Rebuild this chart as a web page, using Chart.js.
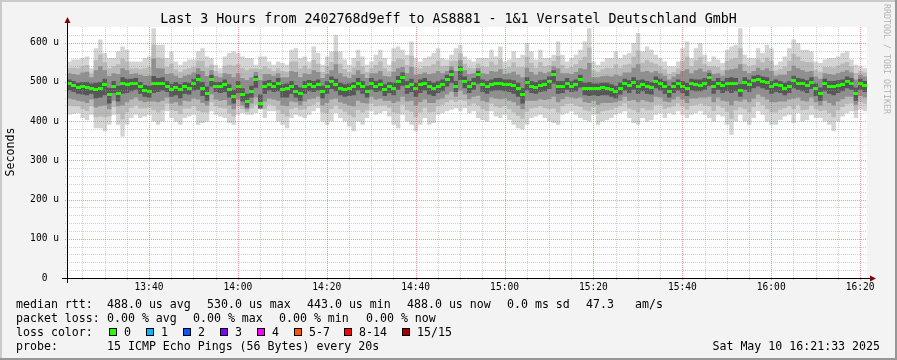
<!DOCTYPE html>
<html>
<head>
<meta charset="utf-8">
<script src="https://cdn.jsdelivr.net/npm/chart.js@4"></script>
<style>
  html, body { margin:0; padding:0; background:#f3f3f3; }
  #wrap { position:relative; width:897px; height:360px; overflow:hidden; background:#f3f3f3; }
  #c { position:absolute; left:0; top:0; }
  .t { position:absolute; font-family:"DejaVu Sans Mono", monospace; color:#000; white-space:pre; }
  .lg { font-size:11.6px; line-height:14px; }
  .box { position:absolute; width:6px; height:6px; border:1px solid #000; }
  .bd { position:absolute; }
</style>
</head>
<body>
<div id="wrap">
  <canvas id="c" width="897" height="360"></canvas>
  <div class="bd" style="left:0;top:0;width:897px;height:2px;background:#cacaca"></div>
  <div class="bd" style="left:0;top:0;width:2px;height:360px;background:#cacaca"></div>
  <div class="bd" style="left:0;bottom:0;width:897px;height:2px;background:#979797"></div>
  <div class="bd" style="right:0;top:0;width:2px;height:360px;background:#979797"></div>
  <div id="title" class="t" style="left:0;width:897px;text-align:center;top:10px;font-size:13.3px;line-height:18px;"></div>
  <div class="t" style="left:-20px;top:145px;width:60px;text-align:center;font-size:11.6px;line-height:14px;transform:rotate(-90deg);">Seconds</div>
  <div class="t" style="left:832px;top:54px;width:110px;text-align:center;font-size:8.3px;line-height:10px;color:#b4b4b4;transform:rotate(90deg);">RRDTOOL / TOBI OETIKER</div>
  <div id="legend"></div>
</div>
<script>
// ---------------- data ----------------
const chartTitle = 'Last 3 Hours from 2402768d9eff to AS8881 - 1&1 Versatel Deutschland GmbH';
const startTime = '13:21:33';
const timeLabels = ['13:40','14:00','14:20','14:40','15:00','15:20','15:40','16:00','16:20'];
const yTickLabels = ['0  ','100 u','200 u','300 u','400 u','500 u','600 u'];

// median RTT per minute (microseconds)
const medianRtt = [
  495,490,486,488,486,484,480,482,493,467,
  489,471,497,493,495,497,488,478,476,495,
  495,497,489,480,487,480,488,484,495,505,
  484,471,505,489,489,493,480,463,489,467,
  450,476,505,446,489,493,489,497,480,484,
  489,476,471,489,493,489,493,476,489,501,
  493,484,480,484,489,497,489,476,497,489,
  493,480,489,484,501,510,489,493,484,493,
  497,489,484,489,493,505,518,489,531,501,
  489,497,518,493,489,493,497,497,493,493,
  491,484,467,499,489,486,491,493,501,518,
  489,489,497,489,493,505,484,484,482,484,
  486,484,480,476,484,495,491,499,489,493,
  489,486,501,495,489,476,489,495,489,482,
  495,493,492,497,510,489,497,490,497,497,
  496,478,499,493,503,505,501,499,489,493,
  490,484,489,503,497,495,490,499,482,471,
  495,489,489,490,493,501,497,471,497,491
];
// smoke: outermost pair (slowest / fastest ping)
const smokeMax = [
  552,557,557,561,565,535,586,608,574,561,
  561,578,590,582,552,552,552,561,565,637,
  595,595,561,578,552,544,552,557,557,578,
  586,565,561,544,535,565,574,578,574,565,
  561,561,544,565,565,552,544,552,548,544,
  582,586,561,565,552,590,574,544,565,578,
  620,578,557,544,561,582,565,544,552,569,
  582,561,544,586,590,582,569,603,561,552,
  561,565,574,586,561,557,569,586,595,565,
  557,552,561,561,561,582,565,590,552,557,
  578,561,569,599,578,557,582,561,561,569,
  603,569,552,561,569,582,603,637,552,544,
  552,561,561,578,561,569,574,599,625,578,
  590,582,569,561,552,540,540,552,586,603,
  561,586,599,569,552,565,557,548,582,590,
  595,637,569,561,561,586,574,595,586,544,
  552,565,586,608,599,582,582,578,552,548,
  557,561,561,565,574,578,557,544,540,535
];
const smokeMin = [
  416,418,420,408,403,416,382,382,374,391,
  416,391,361,391,408,416,408,412,416,399,
  391,399,425,408,399,391,408,412,416,391,
  395,399,425,416,412,408,395,391,416,420,
  416,416,420,429,408,425,425,399,391,382,
  408,416,412,408,416,425,433,399,391,399,
  420,408,399,386,374,399,391,408,425,416,
  420,425,412,391,382,416,399,391,374,391,
  408,391,395,416,420,425,429,433,425,433,
  420,425,408,403,399,425,412,408,416,403,
  391,382,378,391,408,412,416,408,399,395,
  391,416,420,425,416,408,403,399,416,391,
  399,403,408,416,420,425,408,395,391,408,
  399,403,416,420,408,420,416,425,416,408,
  416,420,425,416,408,399,416,412,391,365,
  399,416,399,391,408,425,416,399,391,391,
  403,412,416,395,420,399,403,416,408,408,
  399,391,374,399,412,420,425,408,429,425
];
// smoke: second pair
const outerHi = [
  535,536,535,540,543,522,555,570,550,535,
  540,545,560,552,534,535,533,535,538,595,
  562,560,538,546,532,525,532,535,538,554,
  554,537,544,528,522,541,544,542,545,535,
  530,534,534,532,540,534,528,535,528,526,
  552,552,534,541,534,556,546,525,540,551,
  578,546,533,525,537,553,540,525,535,543,
  552,535,527,552,560,558,543,567,537,534,
  540,540,545,554,540,541,553,554,573,546,
  537,535,547,540,538,552,544,558,535,538,
  550,538,538,564,549,536,551,540,542,553,
  566,543,535,538,545,556,564,588,530,526,
  532,536,535,545,536,544,546,564,580,549,
  556,550,546,540,532,521,525,534,554,564,
  540,555,563,545,540,540,538,530,553,558,
  561,586,546,540,543,558,550,562,554,529,
  533,539,554,572,564,553,551,550,531,526,
  538,538,537,541,547,551,539,523,528,524
];
const outerLo = [
  440,438,438,430,426,438,410,412,410,412,
  436,418,405,422,434,440,432,432,435,428,
  422,428,444,428,426,418,432,432,438,426,
  422,422,448,438,434,432,420,412,438,430,
  423,432,442,432,430,442,440,428,418,412,
  430,434,428,430,438,442,448,422,420,430,
  440,430,424,416,410,428,422,428,445,438,
  440,440,434,422,420,442,428,424,410,422,
  434,422,424,438,442,448,454,449,454,452,
  440,445,440,430,426,444,437,434,439,430,
  422,414,406,424,432,434,438,433,430,432,
  422,438,443,444,439,436,428,425,436,419,
  425,427,429,434,438,445,432,428,422,433,
  427,428,441,442,431,435,438,445,438,429,
  439,441,444,440,438,426,440,434,424,406,
  428,435,430,422,436,449,441,430,422,422,
  429,433,438,430,442,428,429,440,430,426,
  428,421,410,427,436,443,445,427,448,444
];
// smoke: third pair
const midHi = [
  522,520,518,524,526,512,530,540,530,515,
  522,520,535,530,520,522,518,515,516,560,
  535,534,520,522,516,510,516,518,524,535,
  528,515,530,515,512,522,520,512,522,510,
  505,512,525,505,520,520,516,522,512,512,
  528,525,512,522,520,530,525,510,520,530,
  545,522,514,510,518,530,520,510,522,522,
  528,515,514,526,535,538,522,538,518,520,
  524,520,522,528,522,528,540,528,555,530,
  520,522,535,522,520,528,526,532,520,522,
  526,518,512,536,525,518,526,522,526,540,
  535,522,522,520,525,535,532,548,512,512,
  515,516,514,518,516,524,524,536,545,526,
  528,524,528,522,516,506,514,520,528,532,
  522,530,534,526,530,520,522,516,530,532,
  534,545,528,522,528,536,530,535,528,516,
  518,518,528,542,535,530,526,528,514,508,
  522,520,518,522,526,530,524,506,518,514
];
const midLo = [
  458,455,452,450,446,455,435,438,440,430,
  452,438,440,448,455,460,452,448,450,450,
  448,452,460,445,448,440,452,450,458,455,
  446,440,468,455,452,454,440,430,455,440,
  430,445,460,435,450,458,455,452,440,438,
  450,448,440,450,456,458,462,440,446,455,
  458,448,444,440,438,452,446,445,462,455,
  458,452,452,446,450,462,450,452,440,448,
  455,446,446,455,458,468,475,462,478,468,
  456,462,465,452,448,460,458,456,458,452,
  448,440,430,452,452,452,456,454,456,462,
  448,456,462,460,458,460,448,446,452,442,
  446,446,446,448,452,462,452,454,448,454,
  450,448,462,460,450,448,455,462,455,446,
  458,458,460,460,462,448,460,452,450,440,
  452,450,455,448,458,468,462,455,448,448,
  450,450,455,458,460,452,450,460,448,440,
  452,446,440,450,456,462,462,442,464,460
];
// smoke: inner pair
const darkHi = [
  506,502,498,500,500,496,498,500,508,485,
  502,490,512,508,508,510,500,492,490,515,
  510,512,502,495,500,494,500,498,508,520,
  500,488,518,500,500,506,494,480,502,484,
  470,490,516,468,502,505,500,510,494,496,
  502,492,486,502,505,502,506,490,502,514,
  508,498,494,496,500,510,502,490,510,502,
  506,494,500,498,515,524,502,508,498,506,
  510,502,498,502,506,518,530,502,540,514,
  502,510,528,506,502,506,510,510,506,506,
  504,498,484,512,502,500,504,506,514,530,
  502,502,510,502,506,518,498,500,496,496,
  498,498,494,490,498,508,504,512,504,506,
  502,500,514,508,502,490,500,506,502,498,
  508,506,506,510,522,502,510,502,510,512,
  510,494,512,506,516,518,514,512,502,506,
  502,498,502,516,510,508,504,512,496,486,
  508,502,502,504,506,514,510,486,508,502
];
const darkLo = [
  478,474,470,468,466,470,458,460,466,445,
  472,450,470,472,476,480,470,462,460,472,
  474,478,474,462,466,458,470,468,478,480,
  464,452,488,474,472,474,460,445,472,450,
  435,460,485,432,470,478,474,476,460,460,
  470,460,452,470,476,474,478,458,470,482,
  476,466,462,464,466,478,470,460,480,474,
  476,464,472,466,480,490,470,474,462,472,
  478,468,464,472,476,488,498,474,505,484,
  472,480,495,474,470,476,478,478,476,474,
  470,462,445,478,472,470,474,476,482,496,
  470,472,480,474,476,486,466,464,466,464,
  466,466,462,458,468,478,472,480,470,476,
  470,468,484,478,470,460,472,478,472,464,
  478,476,476,480,490,470,480,472,476,472,
  476,462,480,474,484,488,484,480,470,474,
  472,466,472,484,480,476,472,482,464,452,
  476,470,466,472,476,484,480,452,480,474
];

const legendRows = [
  {top:297, items:[[16,'median rtt:'],[107,'488.0 us avg'],[207,'530.0 us max'],[307,'443.0 us min'],[407,'488.0 us now'],[507,'0.0 ms sd'],[586,'47.3'],[635,'am/s']]},
  {top:311, items:[[16,'packet loss:'],[107,'0.00 % avg'],[193,'0.00 % max'],[279,'0.00 % min'],[366,'0.00 % now']]},
  {top:325, items:[[16,'loss color:']]},
  {top:339, items:[[16,'probe:'],[107,'15 ICMP Echo Pings (56 Bytes) every 20s']]}
];
const lossLabels = ['0','1','2','3','4','5-7','8-14','15/15'];
const lossColors = ['#26ff00','#00b8ff','#0059ff','#7e00ff','#ff00ff','#ff5500','#ff0000','#a10000'];
const lossBoxX = [109,146,183,220,257,294,344,402];
const dateText = 'Sat May 10 16:21:33 2025';

// ---------------- text overlays ----------------
document.getElementById('title').textContent = chartTitle;
const lg = document.getElementById('legend');
legendRows.forEach(r => r.items.forEach(([x, s]) => {
  const d = document.createElement('div');
  d.className = 't lg'; d.style.left = x + 'px'; d.style.top = r.top + 'px'; d.textContent = s;
  lg.appendChild(d);
}));
lossLabels.forEach((s, i) => {
  const b = document.createElement('div');
  b.className = 'box'; b.style.left = lossBoxX[i] + 'px'; b.style.top = '328px'; b.style.background = lossColors[i];
  lg.appendChild(b);
  const d = document.createElement('div');
  d.className = 't lg'; d.style.left = (lossBoxX[i] + 15) + 'px'; d.style.top = '325px'; d.textContent = s;
  lg.appendChild(d);
});
const dd = document.createElement('div');
dd.className = 't lg'; dd.style.right = '17px'; dd.style.top = '339px'; dd.textContent = dateText;
lg.appendChild(dd);

// ---------------- chart ----------------
function toMin(s){ const p = s.split(':').map(Number); return p[0]*60 + p[1] + (p[2]||0)/60; }
const t0 = toMin(startTime);
const majorTicks = timeLabels.map(l => toMin(l) - t0);
const minorTicks = [];
for (let m = majorTicks[0] - 15; m <= 180; m += 5) if (m >= 0) minorTicks.push(Math.round(m * 1000) / 1000);
const isMajorX = v => majorTicks.some(m => Math.abs(m - v) < 0.01);

const stepData = arr => arr.map((v, i) => ({x: i, y: v})).concat([{x: arr.length, y: arr[arr.length - 1]}]);
const midData = arr => arr.map((v, i) => ({x: i + 0.5, y: v}));

const greenMark = document.createElement('canvas');
greenMark.width = 5; greenMark.height = 3;
(function(){ const g = greenMark.getContext('2d'); g.fillStyle = '#26ff00'; g.fillRect(0, 0, 5, 3); })();

const band = (data, color, fillTo, order) => ({
  type: 'line', data: stepData(data), stepped: true, borderWidth: 0, borderColor: 'rgba(0,0,0,0)',
  backgroundColor: color, pointRadius: 0, fill: fillTo === null ? false : fillTo, order: order
});

const GRID = 'rgba(150,150,150,0.45)';
const MGRID = 'rgba(225,70,70,0.55)';

function drawGridLines(chart, major) {
  const {ctx, chartArea: a, scales: {x, y}} = chart;
  ctx.save();
  ctx.lineWidth = 1;
  ctx.setLineDash([1, 1]);
  ctx.strokeStyle = major ? MGRID : GRID;
  ctx.beginPath();
  minorTicks.forEach(v => {
    if (isMajorX(v) !== major) return;
    const px = Math.round(x.getPixelForValue(v)) + 0.5;
    ctx.moveTo(px, a.bottom + 2); ctx.lineTo(px, a.top);
  });
  for (let v = 20; v < y.max; v += 20) {
    if ((v % 100 === 0) !== major) continue;
    const py = Math.round(y.getPixelForValue(v)) + 0.5;
    ctx.moveTo(a.left - 2, py); ctx.lineTo(a.right, py);
  }
  ctx.stroke();
  ctx.restore();
}

const gridPlugin = {
  id: 'rrdgrid',
  beforeDraw(chart) {
    const {ctx, chartArea: a} = chart;
    ctx.save(); ctx.fillStyle = '#ffffff';
    ctx.fillRect(a.left, a.top, a.right - a.left, a.bottom - a.top);
    ctx.restore();
  },
  afterDatasetsDraw(chart) {
    drawGridLines(chart, false);
    drawGridLines(chart, true);
    const {ctx, chartArea: a} = chart;
    ctx.save();
    ctx.strokeStyle = '#000'; ctx.lineWidth = 1;
    ctx.beginPath();
    ctx.moveTo(a.left - 5, a.bottom + 0.5); ctx.lineTo(a.right + 4, a.bottom + 0.5);
    ctx.moveTo(a.left + 0.5, a.bottom + 5); ctx.lineTo(a.left + 0.5, a.top - 4);
    ctx.stroke();
    ctx.fillStyle = '#800000';
    ctx.beginPath();
    ctx.moveTo(a.right + 3, a.bottom - 2.5); ctx.lineTo(a.right + 9, a.bottom + 0.5); ctx.lineTo(a.right + 3, a.bottom + 3.5); ctx.closePath();
    ctx.moveTo(a.left - 2.5, a.top - 4); ctx.lineTo(a.left + 0.5, a.top - 10); ctx.lineTo(a.left + 3.5, a.top - 4); ctx.closePath();
    ctx.fill();
    ctx.restore();
  }
};

new Chart(document.getElementById('c'), {
  type: 'line',
  data: {
    datasets: [
      { type: 'line', data: midData(medianRtt), showLine: false, pointStyle: greenMark, pointRadius: 2,
        pointHoverRadius: 2, order: 0 },
      band(darkHi, '#575757', 2, 1),
      band(darkLo, 'rgba(0,0,0,0)', null, 1),
      band(midHi, '#8f8f8f', 4, 2),
      band(midLo, 'rgba(0,0,0,0)', null, 2),
      band(outerHi, '#b9b9b9', 6, 3),
      band(outerLo, 'rgba(0,0,0,0)', null, 3),
      band(smokeMax, '#d4d4d4', 8, 4),
      band(smokeMin, 'rgba(0,0,0,0)', null, 4)
    ]
  },
  options: {
    responsive: false, animation: false, devicePixelRatio: 1,
    layout: { padding: { top: 27, right: 30, left: 0, bottom: 0 } },
    plugins: { legend: { display: false }, tooltip: { enabled: false }, filler: { propagate: false } },
    scales: {
      x: {
        type: 'linear', min: 0, max: 180,
        afterFit(s) { s.height = 82; },
        afterBuildTicks(s) { s.ticks = minorTicks.map(v => ({ value: v })); },
        ticks: {
          autoSkip: false, maxRotation: 0, padding: 4, color: '#000',
          font: { family: 'DejaVu Sans Mono', size: 9.6 },
          callback(v) { const k = majorTicks.findIndex(m => Math.abs(m - v) < 0.01); return k >= 0 ? timeLabels[k] : ''; }
        },
        grid: { drawOnChartArea: false, drawTicks: false },
        border: { display: false }
      },
      y: {
        type: 'linear', min: 0, max: 640,
        afterFit(s) { s.width = 67; },
        ticks: {
          stepSize: 100, autoSkip: false, padding: 8, color: '#000',
          font: { family: 'DejaVu Sans Mono', size: 9.6 },
          callback(v) { return v / 100 < yTickLabels.length ? yTickLabels[v / 100] : ''; }
        },
        grid: { drawOnChartArea: false, drawTicks: false },
        border: { display: false }
      }
    }
  },
  plugins: [gridPlugin]
});
</script>
</body>
</html>
